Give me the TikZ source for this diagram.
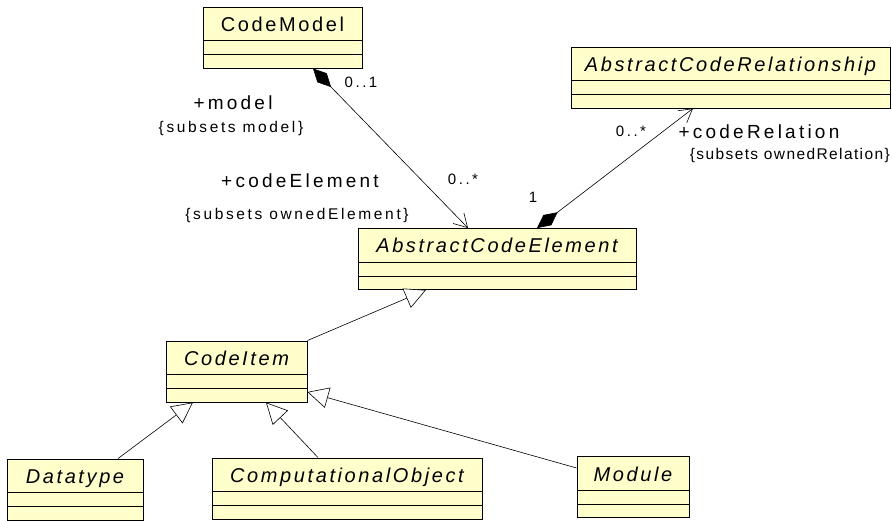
\documentclass[tikz,border=0pt]{standalone}
\usepackage{fontspec}
\setmainfont{Liberation Sans}
\newfontfamily\umlsp[LetterSpace=17]{Liberation Sans}
\newfontfamily\umltitle[LetterSpace=13]{Liberation Sans}
\newfontfamily\umlnarrow[LetterSpace=9]{Liberation Sans}
\usetikzlibrary{arrows.meta}
\definecolor{umlfill}{RGB}{255,255,204}

\tikzset{
  cls/.style={draw, line width=0.9pt, fill=umlfill, inner xsep=0pt, inner ysep=0pt,
    minimum height=61pt, text height=24.5pt, text depth=36.5pt,
    font=\umltitle\fontsize{20}{22}\selectfont},
  abscls/.style={cls, font=\umltitle\itshape\fontsize{20}{22}\selectfont},
  role/.style={inner sep=0pt, font=\umlsp\fontsize{19}{21}\selectfont},
  subs/.style={inner sep=0pt, font=\umlsp\fontsize{15.5}{17}\selectfont},
  mult/.style={inner sep=0pt, font=\umlsp\fontsize{15}{17}\selectfont},
  comp/.style={line width=0.6pt, {Diamond[length=26pt,width=13pt]}-{Straight Barb[length=13pt,width=15pt]}},
  gen/.style={line width=0.6pt, -{Triangle[open,length=21pt,width=21pt,fill=white]}}
}

\begin{document}
\begin{tikzpicture}[x=1pt,y=-1pt]

\useasboundingbox (0,0) rectangle (892,521);

\node[cls, minimum width=159pt] (model) at (282.5,37.5) {CodeModel};
\draw ([yshift=28pt]model.south west) -- ([yshift=28pt]model.south east);
\draw ([yshift=14pt]model.south west) -- ([yshift=14pt]model.south east);

\node[abscls, minimum width=319pt] (rel) at (730.5,77.5) {AbstractCodeRelationship};
\draw ([yshift=28pt]rel.south west) -- ([yshift=28pt]rel.south east);
\draw ([yshift=14pt]rel.south west) -- ([yshift=14pt]rel.south east);

\node[abscls, minimum width=278pt] (elem) at (497,259) {AbstractCodeElement};
\draw ([yshift=28pt]elem.south west) -- ([yshift=28pt]elem.south east);
\draw ([yshift=14pt]elem.south west) -- ([yshift=14pt]elem.south east);

\node[abscls, minimum width=141pt] (item) at (236.5,371.5) {CodeItem};
\draw ([yshift=28pt]item.south west) -- ([yshift=28pt]item.south east);
\draw ([yshift=14pt]item.south west) -- ([yshift=14pt]item.south east);

\node[abscls, minimum width=136pt] (dtype) at (75,489.5) {Datatype};
\draw ([yshift=28pt]dtype.south west) -- ([yshift=28pt]dtype.south east);
\draw ([yshift=14pt]dtype.south west) -- ([yshift=14pt]dtype.south east);

\node[abscls, minimum width=270pt] (cobj) at (347,488.5) {ComputationalObject};
\draw ([yshift=28pt]cobj.south west) -- ([yshift=28pt]cobj.south east);
\draw ([yshift=14pt]cobj.south west) -- ([yshift=14pt]cobj.south east);

\node[abscls, minimum width=112pt] (module) at (633,487) {Module};
\draw ([yshift=28pt]module.south west) -- ([yshift=28pt]module.south east);
\draw ([yshift=14pt]module.south west) -- ([yshift=14pt]module.south east);


\draw[comp] ([xshift=30.5pt]model.south) -- ([xshift=-29pt]elem.north);
\node[mult] (m01) at (361,82) {0..1};
\node[mult] (m0n) at (463,179) {0..*};
\node[role] (rmodel) at (233,103) {+model};
\node[subs] (smodel) at (231,128) {\{subsets model\}};
\node[role] (relem) at (300,181) {+codeElement};
\node[subs] (selem) at (297,215) {\{subsets ownedElement\}};

\draw[comp] ([xshift=40pt]elem.north) -- ([xshift=-37.5pt]rel.south);
\node[mult] (m1) at (533,197) {1};
\node[mult] (mrel) at (631,131) {0..*};
\node[role] (rrel) at (759,132) {+codeRelation};
\node[subs, anchor=east, font=\umlnarrow\fontsize{15.5}{17}\selectfont] (srel) at (890,155) {\{subsets ownedRelation\}};


\draw[gen] (item.north east) -- ([xshift=-71pt]elem.south);
\draw[gen] ([xshift=43pt]dtype.north) -- ([xshift=-43.5pt]item.south);
\draw[gen] ([xshift=-29pt]cobj.north) -- ([xshift=29.5pt]item.south);
\draw[gen] ([yshift=19pt]module.west) -- ([yshift=-20.5pt]item.east);

\end{tikzpicture}
\end{document}
